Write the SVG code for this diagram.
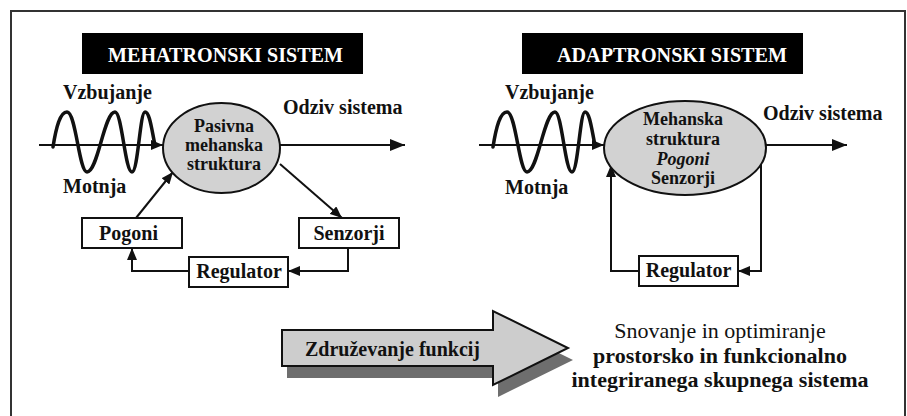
<svg xmlns="http://www.w3.org/2000/svg" width="907" height="416" viewBox="0 0 907 416">
<style>
  text{font-family:'Liberation Serif',Tinos,'Times New Roman',Times,serif;}
  .t{font-weight:bold;font-size:20px;fill:#111;}
  .c{text-anchor:middle;}
  .e{font-size:18px;}
  .title{font-size:21px;fill:#fff;text-anchor:middle;}
  .r{font-size:22px;fill:#111;text-anchor:middle;}
  .b{font-weight:bold;font-size:22px;fill:#111;text-anchor:middle;}
  .box{fill:#fff;stroke:#111;stroke-width:2;}
  .ell{fill:#d2d2d2;stroke:#111;stroke-width:2;}
  .ln{fill:none;stroke:#111;stroke-width:2;}
  .wave{fill:none;stroke:#111;stroke-width:3.5;stroke-linecap:round;}
</style>
<defs>
  <marker id="ah" markerUnits="userSpaceOnUse" markerWidth="12" markerHeight="10" refX="12" refY="5" orient="auto">
    <path d="M0,0 L12,5 L0,10 Z" fill="#111"/>
  </marker>
  <marker id="ahb" markerUnits="userSpaceOnUse" markerWidth="15" markerHeight="12" refX="15" refY="6" orient="auto">
    <path d="M0,0 L15,6 L0,12 Z" fill="#111"/>
  </marker>
  <path id="wv" d="M53,147 C56,128 60,112 67,112 C76,112 79,172 87,172 C98,172 104,112 115,112 C122,112 125,172 132,172 C138,172 140,112 145,112 C150,112 152,132 155,145"/>
</defs>
<rect width="907" height="416" fill="#fff"/>
<rect x="11" y="11" width="894" height="420" fill="none" stroke="#333" stroke-width="2"/>

<g id="connectors">
  <line class="ln" x1="39" y1="145" x2="163" y2="145" marker-end="url(#ah)"/>
  <line class="ln" x1="280" y1="145" x2="405" y2="145" marker-end="url(#ahb)"/>
  <line class="ln" x1="136" y1="218" x2="173" y2="172" marker-end="url(#ah)"/>
  <line class="ln" x1="280" y1="164" x2="342" y2="218" marker-end="url(#ah)"/>
  <polyline class="ln" points="348,248 348,271 288,271" marker-end="url(#ah)"/>
  <polyline class="ln" points="189,271 132,271 132,248" marker-end="url(#ah)"/>

  <line class="ln" x1="479" y1="145" x2="604" y2="145" marker-end="url(#ah)"/>
  <line class="ln" x1="766" y1="145" x2="847" y2="145" marker-end="url(#ahb)"/>
  <polyline class="ln" points="761,163 761,271 738,271" marker-end="url(#ah)"/>
  <polyline class="ln" points="639,271 611,271 611,165" marker-end="url(#ah)"/>
</g>

<g id="wave-left"><use href="#wv" class="wave"/></g>
<g id="wave-right"><use href="#wv" class="wave" transform="translate(440,0)"/></g>

<g id="title-left">
  <rect x="82" y="33" width="281" height="41" fill="#000"/>
  <text class="t title" x="225.5" y="62" textLength="235" lengthAdjust="spacingAndGlyphs">MEHATRONSKI SISTEM</text>
</g>
<g id="title-right">
  <rect x="522" y="33" width="281" height="41" fill="#000"/>
  <text class="t title" x="672" y="62" textLength="230" lengthAdjust="spacingAndGlyphs">ADAPTRONSKI SISTEM</text>
</g>

<g id="labels-left">
  <text class="t" x="63" y="99">Vzbujanje</text>
  <text class="t" x="63" y="193">Motnja</text>
  <text class="t" x="283" y="114">Odziv sistema</text>
</g>
<g id="labels-right">
  <text class="t" x="505" y="99">Vzbujanje</text>
  <text class="t" x="505" y="194">Motnja</text>
  <text class="t" x="763" y="120">Odziv sistema</text>
</g>

<g id="pasivna-struktura">
  <ellipse class="ell" cx="221.5" cy="148" rx="58.5" ry="45"/>
  <text class="t c e" x="224" y="132">Pasivna</text>
  <text class="t c e" x="224" y="151">mehanska</text>
  <text class="t c e" x="224" y="170">struktura</text>
</g>
<g id="pogoni">
  <rect class="box" x="82" y="218" width="100" height="30"/>
  <text class="t c" x="128.5" y="240">Pogoni</text>
</g>
<g id="senzorji">
  <rect class="box" x="299" y="218" width="100" height="30"/>
  <text class="t c" x="349" y="240">Senzorji</text>
</g>
<g id="regulator-left">
  <rect class="box" x="189" y="257" width="99" height="30"/>
  <text class="t c" x="239" y="278">Regulator</text>
</g>

<g id="mehanska-struktura">
  <ellipse class="ell" cx="685" cy="148" rx="81" ry="47"/>
  <text class="t c e" x="683" y="125">Mehanska</text>
  <text class="t c e" x="683" y="145">struktura</text>
  <text class="t c e" x="683" y="165" font-style="italic">Pogoni</text>
  <text class="t c e" x="683" y="184">Senzorji</text>
</g>
<g id="regulator-right">
  <rect class="box" x="639" y="256" width="99" height="30"/>
  <text class="t c" x="688.5" y="277">Regulator</text>
</g>

<g id="zdruzevanje">
  <polygon points="282,330 493,330 493,311 568,348 493,385 493,366 282,366" fill="#6e6e6e" transform="translate(5,12)"/>
  <polygon points="282,330 493,330 493,311 568,348 493,385 493,366 282,366" fill="#cdcdcd" stroke="#111" stroke-width="2"/>
  <text class="t c" x="392.5" y="356">Združevanje funkcij</text>
</g>

<g id="result">
  <text class="r" x="720" y="338">Snovanje in optimiranje</text>
  <text class="b" x="720" y="363">prostorsko in funkcionalno</text>
  <text class="b" x="720" y="387">integriranega skupnega sistema</text>
</g>
</svg>
